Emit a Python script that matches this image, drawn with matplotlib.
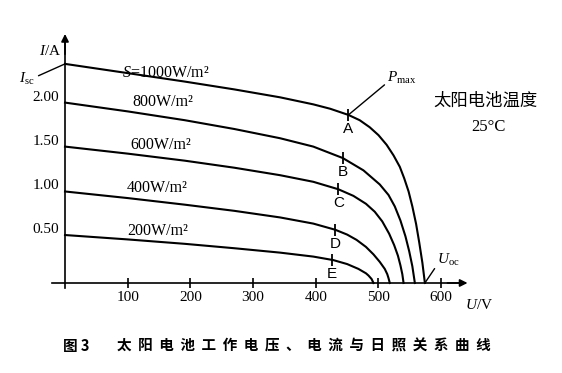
import matplotlib
matplotlib.use("Agg")
import matplotlib.pyplot as plt
from matplotlib.transforms import ScaledTranslation

plt.rcParams["font.family"] = ["Liberation Serif", "Noto Sans CJK SC"]
plt.rcParams["mathtext.fontset"] = "custom"
plt.rcParams["mathtext.rm"] = "Liberation Serif"
plt.rcParams["mathtext.it"] = "Liberation Serif:italic"

# I-V curves (U in V, I in A)
v1000 = [0, 100, 190, 270, 343, 396, 423, 452, 470, 486, 500, 513, 524, 534,
         541, 548, 554, 560, 565, 570, 574]
i1000 = [2.49, 2.385, 2.29, 2.20, 2.11, 2.03, 1.98, 1.91, 1.85, 1.77, 1.68,
         1.57, 1.45, 1.32, 1.19, 1.04, 0.87, 0.67, 0.46, 0.23, 0]
v800 = [0, 100, 191, 270, 343, 396, 443, 476, 502, 516, 526, 535, 543, 549,
        554, 558]
i800 = [2.05, 1.95, 1.85, 1.75, 1.645, 1.55, 1.42, 1.28, 1.12, 1.00, 0.87,
        0.71, 0.53, 0.36, 0.19, 0]
v600 = [0, 100, 191, 270, 343, 396, 436, 460, 480, 494, 506, 517, 525, 531,
        535, 538, 540]
i600 = [1.55, 1.47, 1.39, 1.31, 1.225, 1.15, 1.065, 0.99, 0.90, 0.81, 0.70,
        0.56, 0.43, 0.31, 0.20, 0.10, 0]
v400 = [0, 100, 191, 270, 343, 396, 431, 450, 465, 480, 492, 502, 510, 514,
        516, 518]
i400 = [1.04, 0.965, 0.89, 0.82, 0.745, 0.675, 0.605, 0.55, 0.49, 0.41, 0.325,
        0.24, 0.16, 0.10, 0.055, 0]
v200 = [0, 100, 191, 270, 343, 396, 428, 450, 468, 480, 484, 489, 492]
i200 = [0.545, 0.495, 0.445, 0.395, 0.345, 0.30, 0.26, 0.215, 0.16, 0.11,
        0.085, 0.045, 0]

curve_labels = [r"$S$=1000W/m²", "800W/m²", "600W/m²", "400W/m²", "200W/m²"]

# operating points A..E
mark_names = ["A", "B", "C", "D", "E"]
mark_v = [452, 443, 436, 431, 426]
mark_i = [1.91, 1.42, 1.065, 0.605, 0.257]

xticks = [100, 200, 300, 400, 500, 600]
yticks = [0.5, 1.0, 1.5, 2.0]
ytick_labels = ["0.50", "1.00", "1.50", "2.00"]

isc = i1000[0]
uoc = v1000[-1]

fig = plt.figure(figsize=(5.62, 3.73), dpi=100)
ax = fig.add_axes([0, 0, 1, 1])
ax.set_xlim(-103.7, 792.7)
ax.set_ylim(-1.023, 3.216)

for v, i in [(v1000, i1000), (v800, i800), (v600, i600), (v400, i400),
             (v200, i200)]:
    ax.plot(v, i, color="black", lw=1.5, solid_joinstyle="round")

# axes through the origin
for s in ("top", "right"):
    ax.spines[s].set_visible(False)
ax.spines["left"].set_position(("data", 0))
ax.spines["bottom"].set_position(("data", 0))
ax.spines["left"].set_bounds(-0.06, 2.75)
ax.spines["bottom"].set_bounds(-20, 630)
ax.spines["left"].set_linewidth(1.2)
ax.spines["bottom"].set_linewidth(1.2)
ax.annotate("", xy=(0, 2.83), xytext=(0, 2.6),
            arrowprops=dict(arrowstyle="-|>", color="black", lw=1.2,
                            mutation_scale=11, shrinkA=0, shrinkB=0))
ax.annotate("", xy=(642, 0), xytext=(610, 0),
            arrowprops=dict(arrowstyle="-|>", color="black", lw=1.2,
                            mutation_scale=11, shrinkA=0, shrinkB=0))

ax.set_xticks(xticks)
ax.set_xticklabels([str(t) for t in xticks])
ax.tick_params(axis="x", direction="inout", length=7, width=1.2,
               labelsize=11, pad=2)
ax.set_yticks(yticks)
ax.set_yticklabels(ytick_labels)
ax.tick_params(axis="y", length=0, labelsize=11, pad=4)
for lbl in ax.get_yticklabels():
    lbl.set_transform(lbl.get_transform()
                      + ScaledTranslation(0, 0.11, fig.dpi_scale_trans))

ax.text(-24, 2.64, r"$I$/A", fontsize=11, ha="center", va="center")
ax.text(660, -0.25, r"$U$/V", fontsize=11, ha="center", va="center")

# curve labels
label_v = [91, 107, 104, 99, 99]
label_i = [2.39, 2.06, 1.57, 1.08, 0.59]
for txt, lv, li in zip(curve_labels, label_v, label_i):
    ax.text(lv, li, txt, fontsize=11.5, ha="left", va="center")

# operating point marks
ax.plot(mark_v, mark_i, ls="none", marker="|", ms=9, mew=1.3, color="black")
for name, mv, mi in zip(mark_names, mark_v, mark_i):
    ax.annotate(name, xy=(mv, mi), xytext=(0, -5), textcoords="offset points",
                ha="center", va="top", fontsize=11, family="Liberation Sans")

ax.annotate(r"$P_{\rm max}$", xy=(mark_v[0], mark_i[0]), xytext=(28, 21),
            textcoords="offset points", fontsize=11, va="bottom",
            arrowprops=dict(arrowstyle="-", lw=1, color="black",
                            shrinkA=0, shrinkB=0, relpos=(0, 0.2)))
ax.annotate(r"$U_{\rm oc}$", xy=(uoc, 0), xytext=(9, 11),
            textcoords="offset points", fontsize=11, va="bottom",
            arrowprops=dict(arrowstyle="-", lw=1, color="black",
                            shrinkA=0, shrinkB=0, relpos=(0, 0.2)))
ax.annotate(r"$I_{\rm sc}$", xy=(0, isc), xytext=(-22, -11),
            textcoords="offset points", fontsize=11, ha="right", va="center",
            arrowprops=dict(arrowstyle="-", lw=1, color="black",
                            shrinkA=1, shrinkB=0, relpos=(1, 0.6)))

ax.text(671, 2.07, "太阳电池温度", fontsize=12.5, family="Noto Sans CJK SC",
        ha="center", va="center")
ax.text(675, 1.77, "25°C", fontsize=12, ha="center", va="center")

fig.text(63 / 562, 1 - 346 / 373, "图 3", fontsize=10.5, fontweight="bold",
         family="Noto Sans CJK SC", ha="left", va="center")
fig.text(117 / 562, 1 - 346 / 373, "  ".join("太阳电池工作电压、电流与日照关系曲线"),
         fontsize=10.5, fontweight="bold", family="Noto Sans CJK SC",
         ha="left", va="center")

fig.savefig("out.png", dpi=100)
